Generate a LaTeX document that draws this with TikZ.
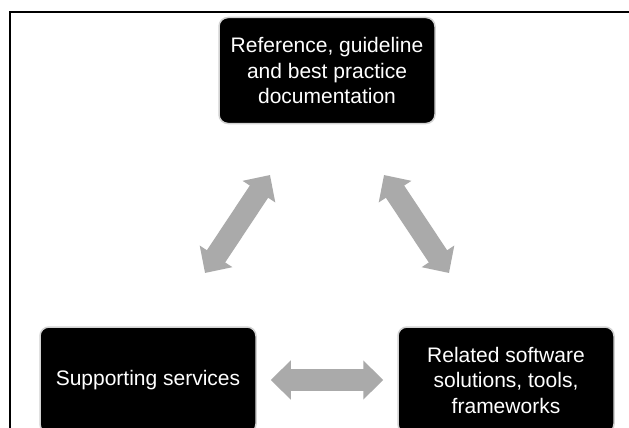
\documentclass[tikz,border=0pt]{standalone}
\usepackage{fontspec}
\setmainfont{Liberation Sans}
\usetikzlibrary{arrows.meta}

\definecolor{arrowgray}{RGB}{170,170,170}
\definecolor{rimgray}{RGB}{210,210,210}

\tikzset{
    block/.style={draw=rimgray, line width=1.5pt, fill=black, rounded corners=9pt,
        text=white, align=center, inner sep=0pt,
        minimum width=216pt, minimum height=106pt,
        font=\fontsize{21}{25.5}\selectfont},
    link/.style={draw=arrowgray, line width=22pt,
        {Triangle[width=38pt,length=20pt]}-{Triangle[width=38pt,length=20pt]}}
}

\begin{document}
\begin{tikzpicture}[x=1pt, y=-1pt]
    \clip (0,0) rectangle (629,428);
    \fill[white] (0,0) rectangle (629,428);

    % Outer frame, running off the right and bottom edges
    \draw[line width=2.5pt] (10,12) rectangle (680,480);

    % Boxes
    \node[block] (docs) at (327,70.5) {Reference, guideline\\and best practice\\documentation};
    \node[block] (services) at (148,380) {Supporting services};
    \node[block] (tools) at (506,380) {Related software\\solutions, tools,\\frameworks};

    % Arrow ends between the boxes
    \coordinate (docsL) at (270,175);
    \coordinate (servicesT) at (205,273);
    \coordinate (docsR) at (384,175);
    \coordinate (toolsT) at (449,273);

    % Double arrows
    \draw[link] (docsL) -- (servicesT);
    \draw[link] (docsR) -- (toolsT);
    \draw[link, shorten <=14pt, shorten >=14pt] (services) -- (tools);
\end{tikzpicture}
\end{document}
